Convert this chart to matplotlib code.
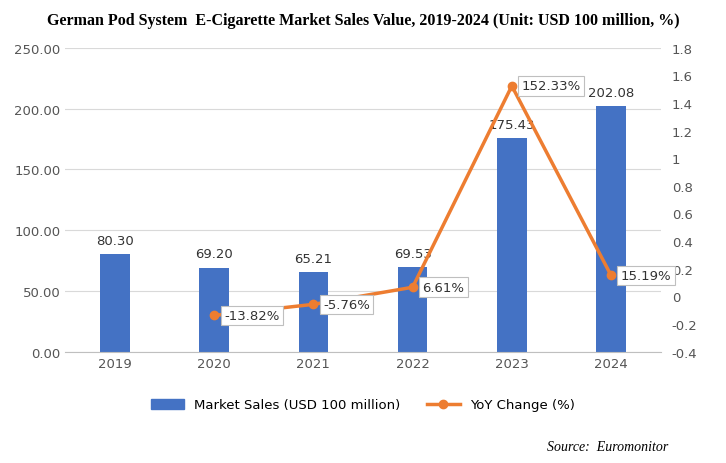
import matplotlib.pyplot as plt
from matplotlib.ticker import FuncFormatter
from matplotlib.patches import Patch
from matplotlib.lines import Line2D

years = ['2019', '2020', '2021', '2022', '2023', '2024']
sales = [80.30, 69.20, 65.21, 69.53, 175.43, 202.08]
yoy_years = ['2020', '2021', '2022', '2023', '2024']
yoy = [-13.82, -5.76, 6.61, 152.33, 15.19]

blue = '#4472C4'
orange = '#ED7D31'

fig = plt.figure(figsize=(7.26, 4.64), dpi=100)
ax = fig.add_axes([0.09, 0.24, 0.82, 0.655])
x = list(range(len(years)))
ax.bar(x, sales, width=0.3, color=blue, zorder=2)
for xi, v in zip(x, sales):
    ax.text(xi, v + 6, f'{v:.2f}', ha='center', va='bottom', fontsize=9.5, color='#333333')
ax.set_ylim(0, 250)
ax.set_yticks(range(0, 251, 50))
ax.yaxis.set_major_formatter(FuncFormatter(lambda v, p: f'{v:.2f}'))
ax.set_xticks(x)
ax.set_xticklabels(years)
ax.set_xlim(-0.5, 5.5)
ax.grid(axis='y', color='#d9d9d9', linewidth=0.8, zorder=0)
for s in ['top', 'right', 'left']:
    ax.spines[s].set_visible(False)
ax.spines['bottom'].set_color('#bfbfbf')
ax.tick_params(length=0, labelsize=9.5, colors='#555555')

ax2 = ax.twinx()
xl = [years.index(y) for y in yoy_years]
yv = [v / 100 for v in yoy]
ax2.plot(xl, yv, color=orange, lw=2.5, marker='o', markersize=6, zorder=3)
for xi, v, raw in zip(xl, yv, yoy):
    ax2.annotate(f'{raw:.2f}%', (xi, v), xytext=(7, 0), textcoords='offset points',
                 va='center', ha='left', fontsize=9.5, color='#333333',
                 bbox=dict(boxstyle='square,pad=0.25', fc='white', ec='#bfbfbf', lw=0.8))
ax2.set_ylim(-0.4, 1.8)
ax2.set_yticks([round(-0.4 + 0.2 * i, 1) for i in range(12)])
ax2.yaxis.set_major_formatter(FuncFormatter(lambda v, p: f'{v:g}'))
for s in ['top', 'right', 'left', 'bottom']:
    ax2.spines[s].set_visible(False)
ax2.tick_params(length=0, labelsize=9.5, colors='#555555', pad=8)

handles = [Patch(color=blue, label='Market Sales (USD 100 million)'),
           Line2D([0], [0], color=orange, lw=2.5, marker='o', label='YoY Change (%)')]
fig.legend(handles=handles, loc='center', bbox_to_anchor=(0.5, 0.125), ncol=2,
           frameon=False, fontsize=9.5, handlelength=2.5)

fig.text(0.5, 0.955, 'German Pod System  E-Cigarette Market Sales Value, 2019-2024 (Unit: USD 100 million, %)',
         ha='center', va='center', fontsize=11.5, fontweight='bold', family='Liberation Serif')
fig.text(0.92, 0.035, 'Source:  Euromonitor', ha='right', va='center', fontsize=10,
         style='italic', family='Liberation Serif')
fig.savefig('out.png', dpi=100)
